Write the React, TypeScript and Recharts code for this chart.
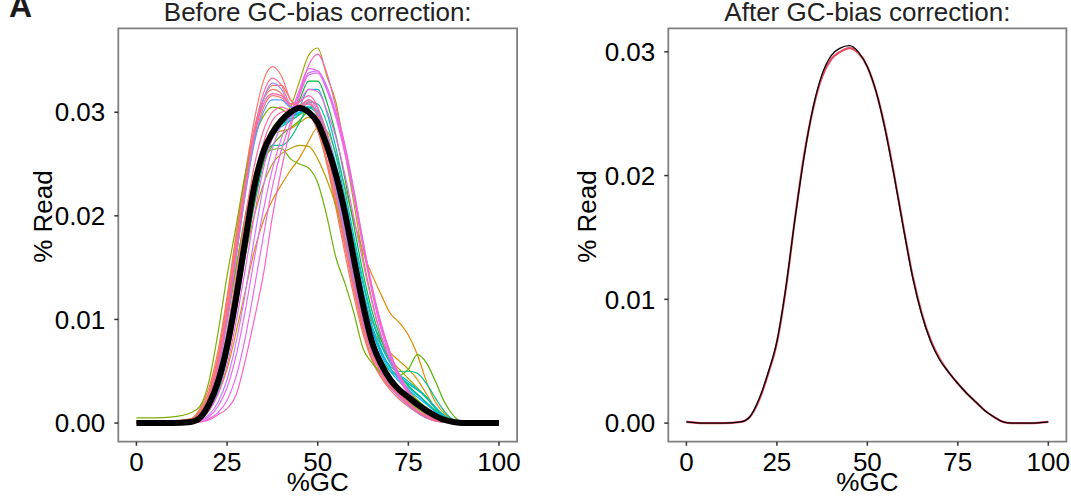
import React from "react";
import { LineChart, Line, XAxis, YAxis, ReferenceArea } from "recharts";

// %GC grid the curves are sampled on
const gcGrid = [0, 5, 10, 15, 17.5, 20, 22.5, 25, 27.5, 30, 32.5, 35, 37.5, 40, 42.5, 45, 47.5, 50, 52.5, 55, 57.5, 60, 62.5, 65, 67.5, 70, 72.5, 75, 77.5, 80, 82.5, 85, 87.5, 90, 95, 100];

const xTicks = [0, 25, 50, 75, 100];
const yTicks = [0, 0.01, 0.02, 0.03];

// before correction: one curve per sample
const s01 = [0.0002, 0.0002, 0.0002, 0.0004, 0.0012, 0.0030, 0.0065, 0.0118, 0.0180, 0.0240, 0.0292, 0.0330, 0.0344, 0.0335, 0.0312, 0.0305, 0.0303, 0.0285, 0.0255, 0.0215, 0.0172, 0.0128, 0.0090, 0.0062, 0.0045, 0.0034, 0.0026, 0.0018, 0.0011, 0.0006, 0.0003, 0.0001, 0, 0, 0, 0];
const s02 = [0.0001, 0.0001, 0.0001, 0.0003, 0.0011, 0.0029, 0.0062, 0.0112, 0.0172, 0.0232, 0.0280, 0.0312, 0.0326, 0.0326, 0.0312, 0.0302, 0.0298, 0.0282, 0.0252, 0.0212, 0.0170, 0.0128, 0.0090, 0.0062, 0.0044, 0.0032, 0.0023, 0.0016, 0.0010, 0.0005, 0.0002, 0.0001, 0, 0, 0, 0];
const s03 = [0.0002, 0.0002, 0.0002, 0.0004, 0.0014, 0.0034, 0.0070, 0.0122, 0.0182, 0.0238, 0.0284, 0.0312, 0.0322, 0.0318, 0.0306, 0.0303, 0.0300, 0.0282, 0.0250, 0.0208, 0.0164, 0.0122, 0.0086, 0.0060, 0.0044, 0.0034, 0.0026, 0.0019, 0.0012, 0.0006, 0.0002, 0.0001, 0, 0, 0, 0];
const s27 = [0.0001, 0.0001, 0.0001, 0.0003, 0.0009, 0.0024, 0.0054, 0.0102, 0.0162, 0.0222, 0.0272, 0.0304, 0.0316, 0.0314, 0.0305, 0.0302, 0.0302, 0.0290, 0.0262, 0.0224, 0.0180, 0.0136, 0.0097, 0.0068, 0.0048, 0.0035, 0.0025, 0.0017, 0.0010, 0.0005, 0.0002, 0.0001, 0, 0, 0, 0];
const s04 = [0.0001, 0.0001, 0.0001, 0.0002, 0.0004, 0.0012, 0.0028, 0.0052, 0.0088, 0.0127, 0.0166, 0.0195, 0.0215, 0.0230, 0.0244, 0.0256, 0.0272, 0.0285, 0.0282, 0.0260, 0.0228, 0.0195, 0.0165, 0.0143, 0.0124, 0.0106, 0.0097, 0.0085, 0.0066, 0.0040, 0.0020, 0.0009, 0.0003, 0.0001, 0, 0];
const s05 = [0.0001, 0.0001, 0.0001, 0.0003, 0.0010, 0.0025, 0.0054, 0.0098, 0.0150, 0.0200, 0.0240, 0.0265, 0.0278, 0.0282, 0.0284, 0.0290, 0.0295, 0.0287, 0.0265, 0.0234, 0.0198, 0.0160, 0.0125, 0.0098, 0.0080, 0.0068, 0.0060, 0.0052, 0.0042, 0.0028, 0.0014, 0.0006, 0.0002, 0, 0, 0];
const s06 = [0.0001, 0.0001, 0.0001, 0.0002, 0.0006, 0.0018, 0.0040, 0.0075, 0.0118, 0.0162, 0.0200, 0.0230, 0.0250, 0.0260, 0.0265, 0.0268, 0.0267, 0.0255, 0.0235, 0.0210, 0.0178, 0.0145, 0.0115, 0.0092, 0.0075, 0.0062, 0.0052, 0.0043, 0.0034, 0.0025, 0.0014, 0.0006, 0.0002, 0, 0, 0];
const s07 = [0.0001, 0.0001, 0.0001, 0.0001, 0.0005, 0.0016, 0.0038, 0.0075, 0.0125, 0.0180, 0.0230, 0.0265, 0.0285, 0.0295, 0.0305, 0.0330, 0.0355, 0.0362, 0.0335, 0.0310, 0.0262, 0.0212, 0.0160, 0.0118, 0.0084, 0.0060, 0.0044, 0.0032, 0.0022, 0.0014, 0.0008, 0.0004, 0.0001, 0, 0, 0];
const s08 = [0.0005, 0.0005, 0.0006, 0.0010, 0.0016, 0.0040, 0.0087, 0.0142, 0.0190, 0.0240, 0.0275, 0.0296, 0.0305, 0.0303, 0.0297, 0.0298, 0.0302, 0.0290, 0.0262, 0.0222, 0.0178, 0.0134, 0.0096, 0.0068, 0.0050, 0.0038, 0.0029, 0.0021, 0.0014, 0.0008, 0.0004, 0.0001, 0, 0, 0, 0];
const s09 = [0.0001, 0.0001, 0.0001, 0.0003, 0.0010, 0.0026, 0.0056, 0.0100, 0.0150, 0.0198, 0.0235, 0.0255, 0.0264, 0.0265, 0.0255, 0.0250, 0.0246, 0.0232, 0.0200, 0.0160, 0.0135, 0.0106, 0.0072, 0.0058, 0.0048, 0.0040, 0.0033, 0.0028, 0.0022, 0.0015, 0.0008, 0.0003, 0.0001, 0, 0, 0];
const s10 = [0.0001, 0.0001, 0.0001, 0.0002, 0.0007, 0.0020, 0.0045, 0.0085, 0.0135, 0.0185, 0.0225, 0.0252, 0.0268, 0.0278, 0.0285, 0.0292, 0.0300, 0.0295, 0.0270, 0.0235, 0.0192, 0.0150, 0.0112, 0.0082, 0.0062, 0.0050, 0.0046, 0.0052, 0.0066, 0.0058, 0.0040, 0.0020, 0.0007, 0.0001, 0, 0];
const s11 = [0.0001, 0.0001, 0.0001, 0.0001, 0.0004, 0.0012, 0.0030, 0.0062, 0.0108, 0.0160, 0.0210, 0.0250, 0.0275, 0.0288, 0.0296, 0.0312, 0.0330, 0.0330, 0.0310, 0.0278, 0.0236, 0.0190, 0.0145, 0.0108, 0.0080, 0.0060, 0.0046, 0.0036, 0.0028, 0.0020, 0.0012, 0.0006, 0.0002, 0, 0, 0];
const s12 = [0.0001, 0.0001, 0.0001, 0.0002, 0.0007, 0.0020, 0.0046, 0.0088, 0.0138, 0.0188, 0.0228, 0.0255, 0.0268, 0.0268, 0.0275, 0.0290, 0.0305, 0.0302, 0.0280, 0.0245, 0.0202, 0.0160, 0.0120, 0.0090, 0.0068, 0.0055, 0.0050, 0.0050, 0.0048, 0.0038, 0.0024, 0.0011, 0.0003, 0.0001, 0, 0];
const s13 = [0, 0, 0, 0.0001, 0.0004, 0.0014, 0.0035, 0.0070, 0.0116, 0.0168, 0.0218, 0.0256, 0.0278, 0.0288, 0.0292, 0.0298, 0.0310, 0.0308, 0.0290, 0.0258, 0.0218, 0.0175, 0.0134, 0.0100, 0.0075, 0.0058, 0.0047, 0.0040, 0.0033, 0.0025, 0.0015, 0.0007, 0.0002, 0, 0, 0];
const s28 = [0, 0, 0, 0.0001, 0.0006, 0.0018, 0.0042, 0.0082, 0.0130, 0.0180, 0.0226, 0.0260, 0.0280, 0.0288, 0.0292, 0.0298, 0.0304, 0.0298, 0.0276, 0.0244, 0.0205, 0.0163, 0.0123, 0.0090, 0.0068, 0.0053, 0.0044, 0.0038, 0.0032, 0.0024, 0.0014, 0.0006, 0.0002, 0, 0, 0];
const s14 = [0, 0, 0, 0.0001, 0.0004, 0.0013, 0.0032, 0.0065, 0.0112, 0.0165, 0.0215, 0.0255, 0.0278, 0.0286, 0.0292, 0.0305, 0.0322, 0.0322, 0.0300, 0.0266, 0.0225, 0.0180, 0.0138, 0.0102, 0.0076, 0.0058, 0.0046, 0.0038, 0.0032, 0.0025, 0.0015, 0.0007, 0.0002, 0, 0, 0];
const s15 = [0, 0, 0, 0.0001, 0.0005, 0.0017, 0.0040, 0.0078, 0.0125, 0.0175, 0.0225, 0.0262, 0.0282, 0.0292, 0.0296, 0.0300, 0.0302, 0.0292, 0.0272, 0.0245, 0.0206, 0.0165, 0.0124, 0.0090, 0.0066, 0.0050, 0.0040, 0.0032, 0.0025, 0.0018, 0.0011, 0.0005, 0.0001, 0, 0, 0];
const s26 = [0, 0, 0, 0.0001, 0.0004, 0.0013, 0.0032, 0.0066, 0.0112, 0.0165, 0.0216, 0.0256, 0.0280, 0.0290, 0.0294, 0.0300, 0.0306, 0.0300, 0.0280, 0.0250, 0.0212, 0.0170, 0.0128, 0.0094, 0.0070, 0.0053, 0.0042, 0.0034, 0.0027, 0.0019, 0.0011, 0.0005, 0.0001, 0, 0, 0];
const s16 = [0, 0, 0, 0.0002, 0.0008, 0.0023, 0.0052, 0.0100, 0.0160, 0.0220, 0.0270, 0.0300, 0.0312, 0.0312, 0.0305, 0.0306, 0.0308, 0.0296, 0.0268, 0.0230, 0.0186, 0.0140, 0.0100, 0.0070, 0.0050, 0.0037, 0.0027, 0.0019, 0.0012, 0.0006, 0.0002, 0.0001, 0, 0, 0, 0];
const s17 = [0, 0, 0, 0.0002, 0.0008, 0.0022, 0.0050, 0.0098, 0.0160, 0.0222, 0.0275, 0.0312, 0.0328, 0.0322, 0.0305, 0.0306, 0.0312, 0.0300, 0.0268, 0.0226, 0.0180, 0.0135, 0.0096, 0.0067, 0.0048, 0.0035, 0.0025, 0.0017, 0.0010, 0.0005, 0.0002, 0.0001, 0, 0, 0, 0];
const s18 = [0, 0, 0, 0.0001, 0.0003, 0.0008, 0.0020, 0.0042, 0.0078, 0.0125, 0.0178, 0.0228, 0.0265, 0.0288, 0.0300, 0.0318, 0.0338, 0.0340, 0.0325, 0.0300, 0.0268, 0.0225, 0.0176, 0.0130, 0.0093, 0.0065, 0.0045, 0.0030, 0.0018, 0.0010, 0.0004, 0.0001, 0, 0, 0, 0];
const s19 = [0, 0, 0, 0, 0.0002, 0.0006, 0.0016, 0.0034, 0.0065, 0.0108, 0.0158, 0.0205, 0.0245, 0.0275, 0.0298, 0.0322, 0.0342, 0.0340, 0.0322, 0.0295, 0.0260, 0.0218, 0.0170, 0.0126, 0.0090, 0.0064, 0.0044, 0.0029, 0.0017, 0.0009, 0.0004, 0.0001, 0, 0, 0, 0];
const s29 = [0, 0, 0, 0, 0.0001, 0.0004, 0.0010, 0.0022, 0.0045, 0.0082, 0.0130, 0.0180, 0.0228, 0.0264, 0.0290, 0.0316, 0.0336, 0.0338, 0.0322, 0.0298, 0.0264, 0.0222, 0.0175, 0.0132, 0.0096, 0.0068, 0.0047, 0.0031, 0.0019, 0.0010, 0.0005, 0.0002, 0, 0, 0, 0];
const s20 = [0, 0, 0, 0, 0.0004, 0.0012, 0.0028, 0.0056, 0.0098, 0.0148, 0.0200, 0.0245, 0.0275, 0.0292, 0.0300, 0.0310, 0.0322, 0.0320, 0.0302, 0.0276, 0.0240, 0.0198, 0.0155, 0.0116, 0.0084, 0.0060, 0.0042, 0.0028, 0.0017, 0.0009, 0.0004, 0.0001, 0, 0, 0, 0];
const s21 = [0, 0, 0, 0, 0.0001, 0.0003, 0.0008, 0.0014, 0.0027, 0.0060, 0.0100, 0.0143, 0.0199, 0.0245, 0.0285, 0.0318, 0.0345, 0.0356, 0.0338, 0.0305, 0.0268, 0.0222, 0.0172, 0.0130, 0.0095, 0.0068, 0.0046, 0.0030, 0.0018, 0.0010, 0.0005, 0.0002, 0.0001, 0, 0, 0];
const s22 = [0, 0, 0, 0.0002, 0.0009, 0.0024, 0.0054, 0.0102, 0.0164, 0.0226, 0.0278, 0.0308, 0.0318, 0.0316, 0.0308, 0.0310, 0.0316, 0.0305, 0.0275, 0.0234, 0.0188, 0.0142, 0.0100, 0.0070, 0.0050, 0.0036, 0.0026, 0.0018, 0.0011, 0.0006, 0.0002, 0.0001, 0, 0, 0, 0];
const s25 = [0, 0, 0, 0.0001, 0.0005, 0.0016, 0.0038, 0.0074, 0.0124, 0.0180, 0.0232, 0.0270, 0.0292, 0.0300, 0.0302, 0.0306, 0.0312, 0.0304, 0.0280, 0.0246, 0.0205, 0.0160, 0.0116, 0.0080, 0.0056, 0.0040, 0.0029, 0.0020, 0.0012, 0.0006, 0.0002, 0.0001, 0, 0, 0, 0];
const s23 = [0, 0, 0, 0.0002, 0.0007, 0.0020, 0.0046, 0.0088, 0.0142, 0.0198, 0.0248, 0.0282, 0.0300, 0.0305, 0.0302, 0.0305, 0.0308, 0.0298, 0.0272, 0.0236, 0.0194, 0.0150, 0.0108, 0.0075, 0.0053, 0.0038, 0.0027, 0.0018, 0.0011, 0.0006, 0.0002, 0.0001, 0, 0, 0, 0];
const s24 = [0.0001, 0.0001, 0.0001, 0.0003, 0.0010, 0.0026, 0.0058, 0.0108, 0.0170, 0.0230, 0.0282, 0.0318, 0.0333, 0.0326, 0.0308, 0.0307, 0.0310, 0.0296, 0.0262, 0.0220, 0.0176, 0.0132, 0.0094, 0.0066, 0.0048, 0.0036, 0.0027, 0.0019, 0.0012, 0.0007, 0.0003, 0.0001, 0, 0, 0, 0];

// thick black average of the samples
const meanBefore = [0, 0, 0, 0.0001, 0.0005, 0.0018, 0.0040, 0.0074, 0.0121, 0.0176, 0.0228, 0.0262, 0.0280, 0.0292, 0.0300, 0.0304, 0.0300, 0.0290, 0.0268, 0.0240, 0.0203, 0.0158, 0.0114, 0.0078, 0.0057, 0.0042, 0.0032, 0.0025, 0.0018, 0.0012, 0.0007, 0.0003, 0.0001, 0, 0, 0];

// after correction
const afterRaw = [0.0001, 0, 0, 0.0001, 0.0005, 0.0018, 0.0039, 0.0065, 0.0109, 0.0165, 0.0216, 0.0254, 0.0280, 0.0294, 0.0300, 0.0303, 0.0299, 0.0288, 0.0267, 0.0237, 0.0199, 0.0158, 0.0119, 0.0089, 0.0067, 0.0052, 0.0041, 0.0032, 0.0024, 0.0017, 0.0010, 0.0005, 0.0001, 0, 0, 0.0001];
const afterCorrected = [0.0001, 0, 0, 0.0001, 0.0005, 0.0019, 0.0040, 0.0066, 0.0110, 0.0165, 0.0215, 0.0255, 0.0282, 0.0297, 0.0303, 0.0305, 0.0300, 0.0288, 0.0267, 0.0236, 0.0198, 0.0157, 0.0118, 0.0088, 0.0066, 0.0051, 0.0041, 0.0032, 0.0024, 0.0017, 0.0010, 0.0005, 0.0001, 0, 0, 0.0001];

interface Series {
  key: string;
  color: string;
  width: number;
  values: number[];
}

// drawn in hue order, so the pinks end up on top like in the figure
const beforeSeries: Series[] = [
  { key: "s01", color: "#F8766D", width: 1.2, values: s01 },
  { key: "s02", color: "#F8766D", width: 1.2, values: s02 },
  { key: "s03", color: "#F37B59", width: 1.2, values: s03 },
  { key: "s27", color: "#F8766D", width: 1.2, values: s27 },
  { key: "s04", color: "#E38900", width: 1.2, values: s04 },
  { key: "s05", color: "#D39200", width: 1.2, values: s05 },
  { key: "s06", color: "#BB9D00", width: 1.2, values: s06 },
  { key: "s07", color: "#A3A500", width: 1.2, values: s07 },
  { key: "s08", color: "#7CAE00", width: 1.2, values: s08 },
  { key: "s09", color: "#6BB100", width: 1.2, values: s09 },
  { key: "s10", color: "#53B400", width: 1.2, values: s10 },
  { key: "s11", color: "#00BA38", width: 1.2, values: s11 },
  { key: "s12", color: "#00C08B", width: 1.2, values: s12 },
  { key: "s13", color: "#00C1A9", width: 1.2, values: s13 },
  { key: "s28", color: "#00C19F", width: 1.2, values: s28 },
  { key: "s14", color: "#00BFC4", width: 1.2, values: s14 },
  { key: "s15", color: "#00B0F6", width: 1.2, values: s15 },
  { key: "s26", color: "#00B8E5", width: 1.2, values: s26 },
  { key: "s16", color: "#619CFF", width: 1.2, values: s16 },
  { key: "s17", color: "#9590FF", width: 1.2, values: s17 },
  { key: "s18", color: "#C77CFF", width: 1.2, values: s18 },
  { key: "s19", color: "#E76BF3", width: 1.2, values: s19 },
  { key: "s29", color: "#EC69EF", width: 1.2, values: s29 },
  { key: "s20", color: "#F564E3", width: 1.2, values: s20 },
  { key: "s21", color: "#FF61C3", width: 1.2, values: s21 },
  { key: "s22", color: "#FF64B0", width: 1.2, values: s22 },
  { key: "s25", color: "#FF67A4", width: 1.2, values: s25 },
  { key: "s23", color: "#FF6A98", width: 1.2, values: s23 },
  { key: "s24", color: "#FF6C91", width: 1.2, values: s24 },
  { key: "mean", color: "#000000", width: 6, values: meanBefore },
];

const afterSeries: Series[] = [
  { key: "raw", color: "#E8495F", width: 2.2, values: afterRaw },
  { key: "corr", color: "#000000", width: 1.3, values: afterCorrected },
];

const FONT = "'Liberation Sans', Arial, Helvetica, sans-serif";
const TICK_STYLE = { fill: "#000", fontSize: 26, fontFamily: FONT };

function buildRows(series: Series[]) {
  return gcGrid.map((gc, i) => {
    const row: Record<string, number> = { gc };
    series.forEach((s) => {
      row[s.key] = s.values[i];
    });
    return row;
  });
}

interface PanelProps {
  left: number;
  width: number;
  yAxisWidth: number;
  rightMargin: number;
  yDomain: [number, number];
  series: Series[];
}

function Panel({ left, width, yAxisWidth, rightMargin, yDomain, series }: PanelProps) {
  const data = buildRows(series);
  return (
    <div style={{ position: "absolute", left, top: 0 }}>
      <LineChart
        width={width}
        height={496}
        data={data}
        margin={{ top: 28.3, right: rightMargin, bottom: 0, left: 0 }}
      >
        <XAxis
          dataKey="gc"
          type="number"
          domain={[-5, 105]}
          ticks={xTicks}
          interval={0}
          allowDataOverflow
          axisLine={false}
          tickLine={{ stroke: "#333", strokeWidth: 1.5 }}
          tickSize={4}
          tickMargin={7}
          tick={TICK_STYLE}
          height={54.3}
        />
        <YAxis
          type="number"
          domain={yDomain}
          ticks={yTicks}
          interval={0}
          allowDataOverflow
          axisLine={false}
          tickLine={{ stroke: "#333", strokeWidth: 1.5 }}
          tickSize={4}
          tickMargin={9}
          tick={TICK_STYLE}
          tickFormatter={(v: number) => v.toFixed(2)}
          width={yAxisWidth}
        />
        {series.map((s) => (
          <Line
            key={s.key}
            dataKey={s.key}
            type="monotone"
            stroke={s.color}
            strokeWidth={s.width}
            dot={false}
            activeDot={false}
            isAnimationActive={false}
          />
        ))}
        <ReferenceArea
          x1={-5}
          x2={105}
          y1={yDomain[0]}
          y2={yDomain[1]}
          fill="none"
          fillOpacity={0}
          stroke="#808080"
          strokeWidth={1.8}
          ifOverflow="visible"
        />
      </LineChart>
    </div>
  );
}

export default function App() {
  return (
    <div
      style={{
        position: "absolute",
        left: 0,
        top: 0,
        width: 1071,
        height: 496,
        background: "#fff",
        overflow: "hidden",
      }}
    >
      <Panel
        left={0}
        width={540}
        yAxisWidth={118.3}
        rightMargin={22.9}
        yDomain={[-0.0018, 0.0381]}
        series={beforeSeries}
      />
      <Panel
        left={540}
        width={531}
        yAxisWidth={128.3}
        rightMargin={4.6}
        yDomain={[-0.0015, 0.0319]}
        series={afterSeries}
      />
      <svg
        width={1071}
        height={496}
        style={{ position: "absolute", left: 0, top: 0, pointerEvents: "none" }}
        fontFamily={FONT}
      >
        <text x={9} y={16.7} fontSize={32} fontWeight="bold" fill="#1a1a1a">
          A
        </text>
        <text x={317.7} y={20.7} fontSize={26} textAnchor="middle" fill="#222">
          Before GC-bias correction:
        </text>
        <text x={867.4} y={20.7} fontSize={26} textAnchor="middle" fill="#222">
          After GC-bias correction:
        </text>
        <text transform="translate(51.5,216.5) rotate(-90)" fontSize={26} textAnchor="middle" fill="#000">
          % Read
        </text>
        <text transform="translate(596,216.5) rotate(-90)" fontSize={26} textAnchor="middle" fill="#000">
          % Read
        </text>
        <text x={317.7} y={491} fontSize={26} textAnchor="middle" fill="#000">
          %GC
        </text>
        <text x={867.4} y={491} fontSize={26} textAnchor="middle" fill="#000">
          %GC
        </text>
      </svg>
    </div>
  );
}
